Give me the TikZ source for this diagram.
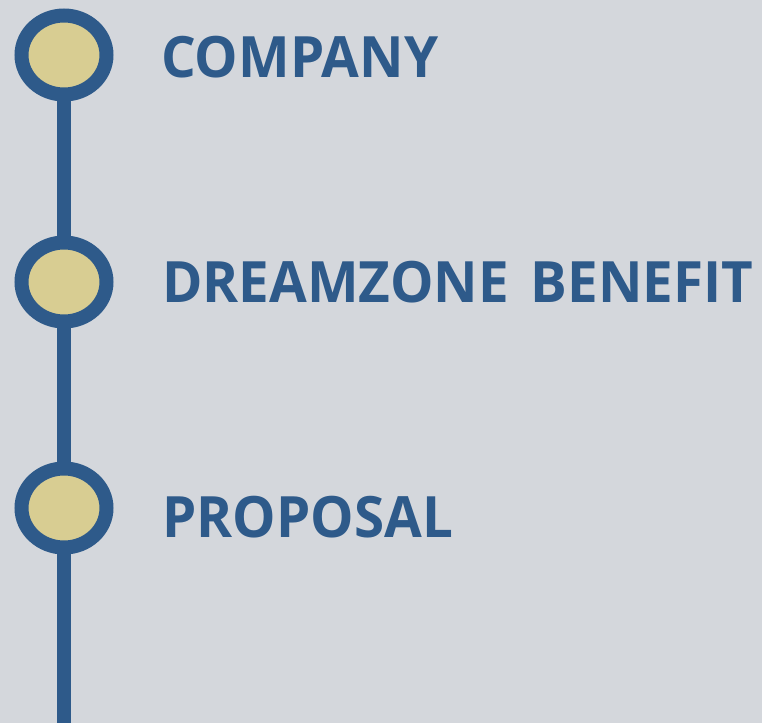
\documentclass[tikz,border=0pt]{standalone}
\usepackage{fontspec}
\setmainfont{Open Sans}[FakeStretch=0.96]
\definecolor{bg}{HTML}{D4D7DC}
\definecolor{tlblue}{HTML}{2E5A8A}
\definecolor{tlkhaki}{HTML}{D8CD92}
\begin{document}
\begin{tikzpicture}[x=1pt,y=-1pt,
  dot/.style={draw=tlblue,line width=14pt,fill=tlkhaki},
  label/.style={anchor=base west,inner sep=0pt,text=tlblue,font=\fontsize{57}{60}\selectfont\bfseries}]
\fill[bg] (0,0) rectangle (762,723);
\useasboundingbox (0,0) rectangle (762,723);
\coordinate (c1) at (64,55);
\coordinate (c2) at (64,282);
\coordinate (c3) at (64,508);
\coordinate (end) at (64,723);
\draw[tlblue,line width=14.3pt] (c1) -- (end);
\foreach \c in {c1,c2,c3}{
  \draw[dot] (\c) ellipse [x radius=42.5,y radius=39.5];
}
\node[label] (t1) at (161,77.5) {COMPANY};
\node[label] (t2) at (162,302.3) {DREAMZONE\hspace{8pt} BENEFIT};
\node[label] (t3) at (162,537.7) {PROPOSAL};
\end{tikzpicture}
\end{document}
